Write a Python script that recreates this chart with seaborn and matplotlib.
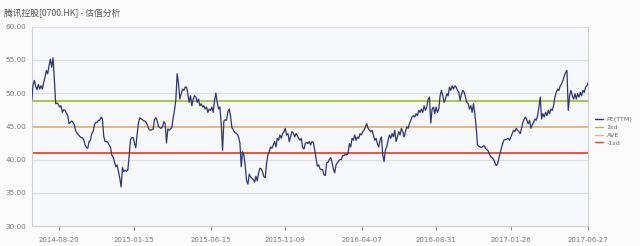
import numpy as np
import pandas as pd
import matplotlib
matplotlib.use("Agg")
import matplotlib.pyplot as plt
import seaborn as sns

# ---------------- data ----------------
title = "腾讯控股[0700.HK] - 估值分析"
start_date = "2014-06-28"
end_date = "2017-06-27"

pe_ttm = [
    # 2014-06 .. 2014-12
    48.8, 51.2, 51.9, 51.0, 50.5, 51.3, 50.6, 51.1, 50.6, 51.6, 52.4, 53.4, 52.9, 54.1, 55.1, 53.9,
    55.3, 52.0, 48.4, 48.5, 48.3, 47.9, 48.1, 47.1, 47.5, 47.4, 47.0, 46.6, 45.4, 45.6, 45.8, 45.6,
    45.2, 44.3, 44.0, 43.7, 43.5, 43.3, 43.3, 43.0, 42.2, 41.8, 41.7, 42.7, 42.9, 43.9, 44.2, 45.2,
    45.6, 45.6, 45.9, 45.9, 46.4, 46.1, 43.5, 42.7, 42.7,
    # segment 2
    42.6, 42.2, 41.9, 40.7, 40.4, 39.7, 38.9, 39.2, 38.2, 37.2, 35.9, 38.8, 38.2, 38.4, 38.2, 38.4,
    40.5, 43.0, 43.3, 43.3, 42.5, 41.8, 43.8, 45.5, 46.3, 46.1, 46.0, 45.8, 45.8, 45.5, 45.0, 44.5,
    44.4, 44.5, 44.6, 46.0, 46.3, 45.8, 45.0, 44.8, 44.7, 44.9, 45.7, 45.4, 42.5, 44.6, 44.4, 44.6,
    44.8, 46.3, 47.4, 49.0, 52.9, 51.4, 49.1, 49.9, 50.6, 50.4, 50.9, 50.9,
    # segment 3
    49.9, 48.6, 49.6, 48.1, 49.1, 49.6, 49.4, 48.6, 49.1, 48.1, 48.4, 47.9, 48.1, 47.6, 47.9, 47.1,
    47.6, 47.4, 47.9, 47.1, 48.9, 50.0, 48.6, 47.6, 47.9, 45.4, 41.4, 45.8, 46.0, 45.9, 47.2, 47.6,
    46.5, 44.8, 44.5, 44.1, 44.0, 43.8, 43.4, 42.5, 38.9, 41.2, 40.6, 39.0, 36.8, 36.3, 37.8, 37.4,
    37.2, 37.0, 36.6, 37.5, 36.8, 38.0, 38.7, 38.6, 38.1, 37.4, 37.3, 39.5,
    # segment 4
    40.7, 41.2, 41.9, 41.7, 42.2, 42.7, 41.9, 43.2, 42.9, 43.7, 43.2, 43.9, 44.2, 44.7, 43.7, 43.9,
    42.7, 43.5, 44.2, 44.0, 43.4, 43.9, 43.6, 43.2, 42.9, 43.2, 41.8, 41.6, 42.4, 42.6, 42.4, 42.7,
    42.2, 42.7, 42.6, 41.5, 40.2, 39.0, 39.2, 38.6, 38.5, 38.5, 37.7, 37.6, 39.5, 39.6, 40.0, 40.3,
    39.6, 38.6, 38.0, 39.2, 39.5, 39.8, 40.0, 40.0, 40.6, 40.6, 40.8, 40.7,
    # segment 5
    40.9, 42.4, 41.9, 43.2, 42.9, 43.7, 42.9, 43.4, 43.2, 43.9, 43.7, 44.2, 44.4, 44.9, 45.4, 44.7,
    44.4, 44.2, 44.4, 43.7, 42.9, 43.2, 42.4, 41.9, 42.9, 43.4, 40.7, 39.7, 41.4, 41.9, 42.9, 43.7,
    43.2, 43.9, 43.4, 44.4, 42.7, 43.4, 44.2, 43.7, 44.7, 44.2, 43.4, 44.2, 44.9, 44.7, 45.4, 45.9,
    46.4, 46.6, 46.4, 46.9, 46.6, 47.4, 47.1, 47.6, 47.1, 48.1, 47.4, 47.9,
    # segment 6
    49.1, 49.4, 45.5, 47.6, 47.9, 46.9, 47.9, 47.1, 47.6, 49.6, 50.4, 49.6, 48.6, 49.1, 49.9, 49.6,
    50.9, 50.4, 51.1, 50.6, 51.1, 50.9, 50.4, 50.1, 48.9, 49.9, 50.4, 50.1, 49.4, 48.6, 48.4, 47.6,
    48.1, 47.1, 48.4, 46.9, 44.9, 42.2, 42.0, 41.9, 41.8, 42.0, 42.1, 41.7, 41.5, 41.3, 40.8, 40.4,
    40.3, 40.0, 39.6, 39.1, 39.3, 40.2, 41.0, 41.8, 42.5, 43.0, 43.0, 43.1,
    # segment 7
    43.2, 42.9, 43.4, 43.9, 44.4, 44.2, 44.7, 44.4, 44.2, 43.9, 44.7, 45.6, 46.1, 46.4, 45.9, 45.4,
    45.9, 44.7, 45.2, 45.6, 46.1, 45.9, 46.6, 47.9, 49.4, 46.1, 46.9, 46.4, 47.1, 46.6, 47.4, 46.9,
    47.6, 47.4, 48.1, 49.4, 50.1, 50.6, 50.4, 51.1, 51.4, 51.9, 52.6, 53.1, 53.4, 47.4, 49.6, 50.4,
    49.6, 49.1, 49.9, 49.1, 49.9, 49.4, 50.1, 49.6, 50.4, 50.1, 50.9, 51.1, 51.6,
]

level_names = ["1sd", "AVE", "-1sd"]
level_values = [48.8, 44.9, 41.0]

series_names = ["PE(TTM)"] + level_names
series_colors = ["#2c3673", "#a3c03b", "#ebb46e", "#e2483b"]

x_tick_labels = ["2014-08-20", "2015-01-15", "2015-06-15", "2015-11-09",
                 "2016-04-07", "2016-08-31", "2017-01-26", "2017-06-27"]
y_ticks = [30, 35, 40, 45, 50, 55, 60]

# ---------------- frame ----------------
dates = pd.date_range(start_date, end_date, periods=len(pe_ttm))
frames = [pd.DataFrame({"date": dates, "value": pe_ttm, "series": "PE(TTM)"})]
for name, val in zip(level_names, level_values):
    frames.append(pd.DataFrame({"date": dates, "value": [val] * len(dates), "series": name}))
df = pd.concat(frames, ignore_index=True)

# ---------------- plot ----------------
sns.set_theme(style="white")
plt.rcParams["font.family"] = ["Noto Sans CJK SC", "DejaVu Sans"]

fig = plt.figure(figsize=(6.4, 2.46), dpi=100, facecolor="#fbfbfb")
ax = fig.add_axes([0.0495, 0.081, 0.8697, 0.811])
ax.set_facecolor("#f7f8fc")

palette = dict(zip(series_names, series_colors))
# levels first (under), then PE on top
lv = df[df["series"] != "PE(TTM)"]
sns.lineplot(data=lv, x="date", y="value", hue="series", hue_order=level_names,
             palette=palette, linewidth=1.3, ax=ax, legend=False, zorder=2)
sns.lineplot(data=df[df["series"] == "PE(TTM)"], x="date", y="value",
             color=palette["PE(TTM)"], linewidth=0.9, ax=ax, legend=False, zorder=3)

ax.set_xlim(dates[0], dates[-1])
ax.set_ylim(y_ticks[0], y_ticks[-1])
ax.set_yticks(y_ticks)
ax.set_yticklabels([f"{v:.2f}" for v in y_ticks])
ax.set_xticks(pd.to_datetime(x_tick_labels))
ax.set_xticklabels(x_tick_labels)
ax.set_xlabel("")
ax.set_ylabel("")

ax.grid(axis="y", color="#dedede", linewidth=0.8, zorder=0)
ax.grid(axis="x", visible=False)
for side in ["left", "bottom", "right"]:
    ax.spines[side].set_visible(True)
    ax.spines[side].set_color("#d0d0d0")
    ax.spines[side].set_linewidth(0.8)
ax.spines["top"].set_visible(False)

ax.tick_params(axis="y", labelsize=5.2, colors="#777777", length=0, pad=4)
ax.tick_params(axis="x", labelsize=5.0, colors="#777777", length=3, width=0.6,
               pad=5, direction="out", bottom=True)
for lab in ax.get_xticklabels() + ax.get_yticklabels():
    lab.set_family("DejaVu Sans")
    lab.set_color("#777777")

# legend
from matplotlib.lines import Line2D
handles = [Line2D([0], [0], color=c, lw=1.0) for c in series_colors]
fig.legend(handles, series_names, loc="upper left", bbox_to_anchor=(0.925, 0.535),
           frameon=False, fontsize=4.6, handlelength=1.3, handletextpad=0.6,
           labelspacing=0.35, borderaxespad=0, labelcolor="#666666",
           prop={"family": "DejaVu Sans", "size": 4.6})

fig.text(0.006, 0.965, title, fontsize=6.3, color="#555555", ha="left", va="top",
         family=["Noto Sans CJK SC", "DejaVu Sans"])

fig.savefig("out.png", dpi=100, facecolor=fig.get_facecolor())
